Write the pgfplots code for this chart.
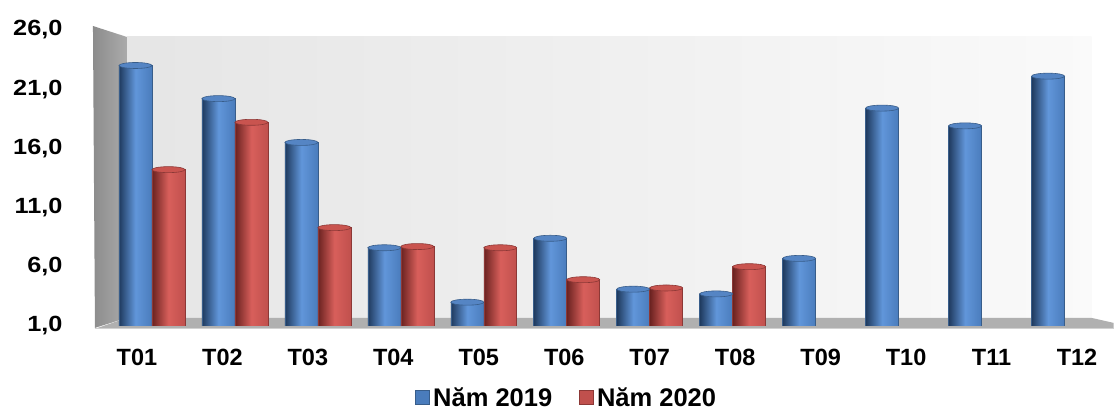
\documentclass[border=0pt]{standalone}
\usepackage{pgfplots}
\pgfplotsset{compat=1.18}
\usepackage{fontspec}
\setmainfont{Liberation Sans}
\definecolor{bluemid}{HTML}{4A7CBC}
\definecolor{bluedark}{HTML}{1F3A5E}
\definecolor{bluelight}{HTML}{6196DA}
\definecolor{bluecap}{HTML}{5585C4}
\definecolor{blueedge}{HTML}{385D8A}
\definecolor{redmid}{HTML}{C0504D}
\definecolor{reddark}{HTML}{6A2220}
\definecolor{redlight}{HTML}{D85F5B}
\definecolor{redcap}{HTML}{C9544F}
\definecolor{rededge}{HTML}{8C3836}
\pgfdeclareplotmark{cap}{%
  \pgfpathellipse{\pgfpointorigin}{\pgfpoint{16.5pt}{0pt}}{\pgfpoint{0pt}{3pt}}%
  \pgfusepathqfillstroke}
\pgfplotsset{
  bb/.style={ybar, bar width=33pt, bar shift=0pt, draw=blueedge, line width=0.6pt,
    left color=bluedark, right color=bluemid, middle color=bluelight, forget plot},
  rb/.style={ybar, bar width=33pt, bar shift=0pt, draw=rededge, line width=0.6pt,
    left color=reddark, right color=redmid, middle color=redlight, forget plot},
}
\newcommand{\yl}[1]{\scalebox{1.15}[1]{#1}}
\begin{document}
\begin{tikzpicture}[x=1pt,y=1pt]
% bounding box (1114 x 407)
\path (0,0) rectangle (1114,-407);
% back wall
\shade[left color=black!10, right color=black!2] (127,-37) rectangle (1092,-318);
% left wall
\shade[left color=black!45, right color=black!33] (93,-26) -- (127,-37) -- (127,-318) -- (95,-328) -- cycle;
% floor
\fill[black!31] (95,-329) -- (127,-318) -- (1092,-318) -- (1114,-323) -- (1114,-329) -- cycle;
\draw[black!18, line width=1pt] (95,-329) -- (1114,-329);
\begin{axis}[
  at={(95pt,-326pt)}, anchor=south west,
  scale only axis, width=1019pt, height=296pt,
  xmin=-0.687, xmax=11.59, ymin=1, ymax=26,
  axis line style={draw=none},
  major tick length=0pt,
  ytick={1,6,11,16,21,26},
  yticklabels={\yl{1,0},\yl{6,0},\yl{11,0},\yl{16,0},\yl{21,0},\yl{26,0}},
  yticklabel style={font=\fontsize{22}{26}\selectfont\bfseries, anchor=east, xshift=-29pt},
  xtick={-0.181,0.849,1.879,2.909,3.939,4.970,6.000,7.030,8.060,9.090,10.120,11.150},
  xticklabels={T01,T02,T03,T04,T05,T06,T07,T08,T09,T10,T11,T12},
  xticklabel style={font=\fontsize{23.5}{27}\selectfont\bfseries, anchor=north, yshift=-20pt},
  legend columns=2,
  legend style={at={(axis description cs:0.4637,-0.243)}, anchor=center, draw=none, fill=none,
    font=\fontsize{25.5}{30}\selectfont\bfseries, inner sep=0pt,
    /tikz/every even column/.append style={column sep=24pt},
    nodes={inner xsep=3pt}},
]
\addlegendimage{legend image code/.code={\draw[fill=bluemid, draw=blueedge, line width=0.8pt] (0pt,-7pt) rectangle (14pt,7pt);}}
\addlegendentry{Năm 2019}
\addlegendimage{legend image code/.code={\draw[fill=redmid, draw=rededge, line width=0.8pt] (0pt,-7pt) rectangle (14pt,7pt);}}
\addlegendentry{Năm 2020}
% Năm 2019 (blue), x = month index - 0.1988
\addplot[bb] coordinates {(-0.1988,23.0)};
\addplot[bb] coordinates {(0.8012,20.2)};
\addplot[bb] coordinates {(1.8012,16.5)};
\addplot[bb] coordinates {(2.8012,7.6)};
\addplot[bb] coordinates {(3.8012,3.0)};
\addplot[bb] coordinates {(4.8012,8.4)};
\addplot[bb] coordinates {(5.8012,4.1)};
\addplot[bb] coordinates {(6.8012,3.7)};
\addplot[bb] coordinates {(7.8012,6.7)};
\addplot[bb] coordinates {(8.8012,19.4)};
\addplot[bb] coordinates {(9.8012,17.9)};
\addplot[bb] coordinates {(10.8012,22.1)};
% Năm 2020 (red), x = month index + 0.1988
\addplot[rb] coordinates {(0.1988,14.2)};
\addplot[rb] coordinates {(1.1988,18.2)};
\addplot[rb] coordinates {(2.1988,9.3)};
\addplot[rb] coordinates {(3.1988,7.7)};
\addplot[rb] coordinates {(4.1988,7.6)};
\addplot[rb] coordinates {(5.1988,4.9)};
\addplot[rb] coordinates {(6.1988,4.2)};
\addplot[rb] coordinates {(7.1988,6.0)};
% cylinder tops
\addplot[only marks, mark=cap, mark options={fill=bluecap, draw=blueedge, line width=0.6pt}, forget plot]
  coordinates {(-0.1988,23.0) (0.8012,20.2) (1.8012,16.5) (2.8012,7.6) (3.8012,3.0) (4.8012,8.4) (5.8012,4.1) (6.8012,3.7) (7.8012,6.7) (8.8012,19.4) (9.8012,17.9) (10.8012,22.1)};
\addplot[only marks, mark=cap, mark options={fill=redcap, draw=rededge, line width=0.6pt}, forget plot]
  coordinates {(0.1988,14.2) (1.1988,18.2) (2.1988,9.3) (3.1988,7.7) (4.1988,7.6) (5.1988,4.9) (6.1988,4.2) (7.1988,6.0)};
\end{axis}
\end{tikzpicture}
\end{document}
